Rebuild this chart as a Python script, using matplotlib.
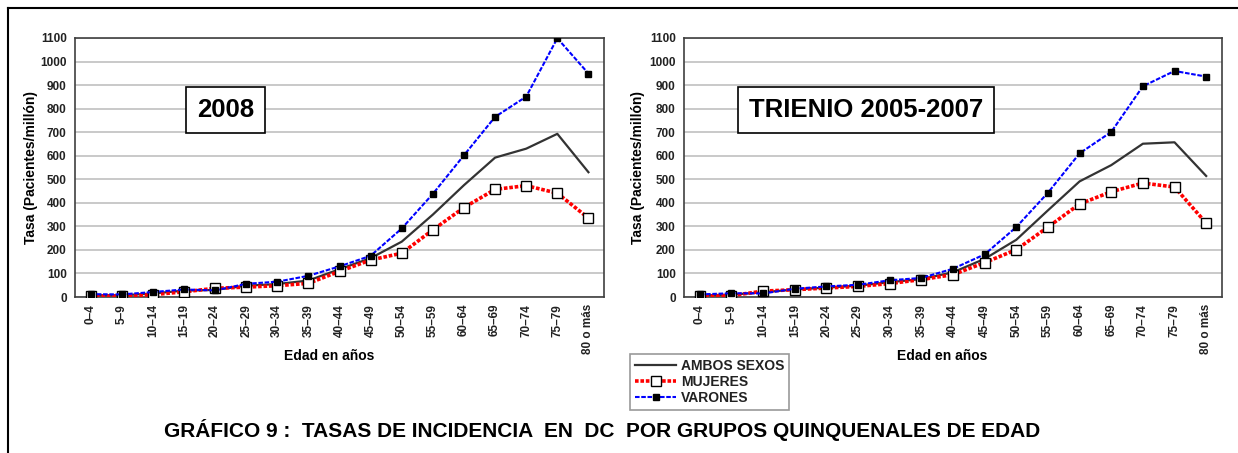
import numpy as np
import matplotlib
matplotlib.use("Agg")
import matplotlib.pyplot as plt
from matplotlib.lines import Line2D

plt.rcParams["font.family"] = ["Liberation Sans", "DejaVu Sans"]

GROUPS = ["0\u20134", "5\u20139", "10\u201314", "15\u201319", "20\u201324", "25\u201329", "30\u201334",
          "35\u201339", "40\u201344", "45\u201349", "50\u201354", "55\u201359", "60\u201364", "65\u201369",
          "70\u201374", "75\u201379", "80 o más"]

# 2008
AMBOS_2008 = [8, 7, 15, 27, 30, 48, 55, 70, 118, 165, 235, 350, 475, 592, 630, 693, 530]
MUJERES_2008 = [4, 4, 10, 22, 37, 42, 48, 58, 109, 157, 186, 285, 380, 457, 473, 441, 335]
VARONES_2008 = [12, 11, 21, 32, 28, 56, 65, 90, 130, 175, 291, 438, 602, 765, 851, 1099, 949]

# trienio 2005-2007
AMBOS_0507 = [7, 10, 20, 32, 40, 48, 63, 76, 105, 162, 243, 368, 491, 560, 651, 657, 514]
MUJERES_0507 = [3, 6, 25, 31, 38, 45, 57, 74, 95, 146, 201, 297, 395, 447, 484, 467, 314]
VARONES_0507 = [11, 16, 15, 35, 45, 52, 71, 81, 120, 181, 297, 443, 610, 701, 895, 960, 936]

PANELS = [("2008", AMBOS_2008, MUJERES_2008, VARONES_2008),
          ("TRIENIO 2005-2007", AMBOS_0507, MUJERES_0507, VARONES_0507)]

fig = plt.figure(figsize=(12.38, 4.53), dpi=100)

# outer frame (top and left only visible in the source)
fig.add_artist(Line2D([8 / 1238, 1], [1 - 8 / 453, 1 - 8 / 453], transform=fig.transFigure, color="black", lw=1.5))
fig.add_artist(Line2D([8 / 1238, 8 / 1238], [0, 1 - 8 / 453], transform=fig.transFigure, color="black", lw=1.5))

axes_rects = [(75 / 1238, 1 - 297 / 453, 529 / 1238, 259 / 453),
              (684 / 1238, 1 - 297 / 453, 538 / 1238, 259 / 453)]
box_pos = [(0.284, 0.722), (0.338, 0.722)]
ylab_x = [-0.07, -0.072]

RED_LS = (0, (1, 0.5))
BLUE_LS = (0, (2.2, 0.8))

x = np.arange(len(GROUPS))
for (title, ambos, muj, var), rect, bp, yx in zip(PANELS, axes_rects, box_pos, ylab_x):
    ax = fig.add_axes(rect)
    ax.set_ylim(0, 1100)
    ax.set_xlim(-0.5, len(GROUPS) - 0.5)
    ax.set_yticks(range(0, 1101, 100))
    ax.yaxis.grid(True, color="#c0c0c0", lw=1.2)
    ax.set_axisbelow(True)
    for s in ax.spines.values():
        s.set_color("#404040")
        s.set_linewidth(1.2)
    ax.plot(x, ambos, color="#333333", lw=1.6, zorder=3)
    ax.plot(x, muj, color="red", lw=2.6, ls=RED_LS, marker="s", ms=7,
            mfc="white", mec="black", mew=1.0, zorder=4)
    ax.plot(x, var, color="blue", lw=1.5, ls=BLUE_LS, marker="s", ms=5,
            mfc="black", mec="black", zorder=5)
    ax.set_xticks(x)
    ax.set_xticklabels(GROUPS, rotation=90, fontsize=8.5, fontweight="bold", color="#222222")
    ax.tick_params(axis="x", length=0, pad=5)
    ax.tick_params(axis="y", length=0, pad=6, labelsize=8.5, labelcolor="#222222")
    for lbl in ax.get_yticklabels():
        lbl.set_fontweight("bold")
    ax.set_ylabel("Tasa (Pacientes/millón)", fontsize=10, fontweight="bold")
    ax.yaxis.set_label_coords(yx, 0.5)
    ax.set_xlabel("Edad en años", fontsize=10, fontweight="bold")
    ax.xaxis.set_label_coords(0.48, -0.2)
    ax.text(bp[0], bp[1], title, transform=ax.transAxes, ha="center", va="center",
            fontsize=18.5, fontweight="bold",
            bbox=dict(boxstyle="square,pad=0.42", fc="white", ec="black", lw=1.2))

handles = [
    Line2D([0], [0], color="#333333", lw=1.6, label="AMBOS SEXOS"),
    Line2D([0], [0], color="red", lw=2.6, ls=RED_LS, marker="s", ms=7,
           mfc="white", mec="black", label="MUJERES"),
    Line2D([0], [0], color="blue", lw=1.5, ls=BLUE_LS, marker="s", ms=5,
           mfc="black", mec="black", label="VARONES"),
]
leg = fig.legend(handles=handles, loc="upper left", bbox_to_anchor=(623 / 1238, 1 - 347 / 453),
                 frameon=True, fancybox=False, edgecolor="#808080", handlelength=3.0,
                 handletextpad=0.3, borderpad=0.35, labelspacing=0.15,
                 prop={"weight": "bold", "size": 10})
leg.get_frame().set_linewidth(1.2)
for t in leg.get_texts():
    t.set_color("#222222")

fig.text(0.486, 1 - 430 / 453,
         "GRÁFICO 9 :  TASAS DE INCIDENCIA  EN  DC  POR GRUPOS QUINQUENALES DE EDAD",
         ha="center", va="center", fontsize=15, fontweight="bold")

fig.savefig("out.png", dpi=100)
